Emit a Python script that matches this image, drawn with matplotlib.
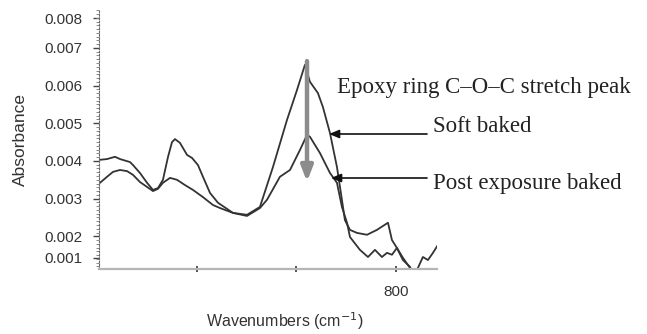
import matplotlib
matplotlib.use("Agg")
import matplotlib.pyplot as plt
from matplotlib.ticker import FixedLocator, MultipleLocator

# Soft baked spectrum (wavenumber cm^-1, absorbance)
soft_wn = [1097.5, 1090.4, 1082.4, 1077.4, 1067.3, 1064.3, 1057.3, 1050.2, 1044.2, 1039.2,
           1034.2, 1029.1, 1025.1, 1022.1, 1017.1, 1010.0, 1005.0, 999.0, 994.0, 986.9,
           978.9, 963.8, 949.7, 936.7, 923.6, 909.5, 899.5, 891.5, 886.4, 878.4,
           873.4, 866.3, 859.3, 854.3, 851.3, 846.2, 839.2, 829.1, 819.1, 808.0,
           804.0, 799.0, 793.0, 785.9, 781.9, 777.9, 772.9, 767.8, 762.8, 757.8]
soft_abs = [0.00403, 0.00405, 0.00411, 0.00405, 0.00397, 0.00389, 0.00368, 0.00342, 0.00323, 0.00328,
            0.00350, 0.00411, 0.00450, 0.00458, 0.00448, 0.00416, 0.00408, 0.00389, 0.00358, 0.00315,
            0.00289, 0.00262, 0.00257, 0.00278, 0.00384, 0.00509, 0.00588, 0.00655, 0.00610, 0.00580,
            0.00543, 0.00474, 0.00384, 0.00297, 0.00243, 0.00217, 0.00209, 0.00204, 0.00217, 0.00236,
            0.00190, 0.00169, 0.00137, 0.00119, 0.00095, 0.00116, 0.00145, 0.00137, 0.00156, 0.00177]

# Post exposure baked spectrum
peb_wn = [1097.5, 1090.4, 1084.4, 1077.4, 1070.3, 1064.3, 1057.3, 1050.2, 1044.2, 1039.2,
          1034.2, 1027.1, 1020.1, 1012.1, 1004.0, 994.0, 983.9, 976.9, 963.8, 949.7,
          936.7, 929.6, 916.6, 906.5, 896.5, 889.4, 886.4, 876.4, 866.3, 859.3,
          854.3, 849.2, 846.2, 836.2, 828.1, 821.1, 814.1, 809.0, 804.0, 799.0,
          793.0, 785.9, 781.9]
peb_abs = [0.00342, 0.00358, 0.00371, 0.00376, 0.00373, 0.00363, 0.00344, 0.00331, 0.00320, 0.00326,
           0.00342, 0.00355, 0.00350, 0.00336, 0.00323, 0.00304, 0.00283, 0.00275, 0.00262, 0.00254,
           0.00275, 0.00297, 0.00358, 0.00376, 0.00429, 0.00469, 0.00464, 0.00421, 0.00368, 0.00342,
           0.00278, 0.00236, 0.00198, 0.00164, 0.00145, 0.00164, 0.00145, 0.00156, 0.00151, 0.00169,
           0.00143, 0.00116, 0.00095]

ytick_pos = [0.00143, 0.002, 0.003, 0.004, 0.005, 0.006, 0.007, 0.00779]
ytick_labels = ["0.001", "0.002", "0.003", "0.004", "0.005", "0.006", "0.007", "0.008"]
xtick_pos = [1000, 900, 800]
xtick_labels = ["", "", "800"]

peak_wn = 889.4
arrow_top = 0.00665
arrow_bottom = 0.00345

fig = plt.figure(figsize=(6.47, 3.34), dpi=100)
ax = fig.add_axes([0.153, 0.195, 0.522, 0.775])

line_color = "#333333"
ax.plot(soft_wn, soft_abs, color=line_color, lw=1.3)
ax.plot(peb_wn, peb_abs, color=line_color, lw=1.3)

ax.set_xlim(1098.5, 759)
ax.set_ylim(0.001135, 0.008006)

for s in ["top", "right"]:
    ax.spines[s].set_visible(False)
ax.spines["bottom"].set_color("#b5b5b5")
ax.spines["bottom"].set_linewidth(1.6)
ax.spines["left"].set_color("#666666")
ax.spines["left"].set_linewidth(0.8)
ax.spines["left"].set_linestyle((0, (1.5, 1.5)))

ax.yaxis.set_major_locator(FixedLocator(ytick_pos))
ax.set_yticklabels(ytick_labels)
ax.yaxis.set_minor_locator(MultipleLocator(0.0001))
ax.tick_params(axis="y", which="major", length=4, width=1, color="#444444",
               labelsize=11, labelcolor="#333333", pad=8)
ax.tick_params(axis="y", which="minor", length=2, width=0.7, color="#888888")

ax.xaxis.set_major_locator(FixedLocator(xtick_pos))
ax.set_xticklabels(xtick_labels)
ax.tick_params(axis="x", which="major", direction="inout", length=5, width=1.2,
               color="#333333", labelsize=11, labelcolor="#333333", pad=9)

for lab in ax.get_yticklabels() + ax.get_xticklabels():
    lab.set_family("Liberation Sans")

ax.set_ylabel("Absorbance", family="Liberation Sans", fontsize=12.5, color="#333333", labelpad=12)
ax.set_xlabel("Wavenumbers (cm$^{-1}$)", family="Liberation Sans", fontsize=11.5,
              color="#333333", labelpad=8)
ax.xaxis.label.set_x(0.55)

# Gray downward arrow at the epoxy peak
ax.annotate("", xy=(peak_wn, arrow_bottom), xytext=(peak_wn, arrow_top),
            arrowprops=dict(arrowstyle="-|>,head_width=0.35,head_length=0.9",
                            color="#8c8c8c", lw=3.2, shrinkA=0, shrinkB=0))

serif = "Liberation Serif"
fs = 16.5
fig.text(337 / 647, 1 - 87 / 334, "Epoxy ring C\u2013O\u2013C stretch peak", family=serif,
         fontsize=fs, color="#222222", va="center", ha="left")

# Label arrows
fig.text(433 / 647, 1 - 127 / 334, "Soft baked", family=serif, fontsize=fs,
         color="#222222", va="center", ha="left")
fig.text(433 / 647, 1 - 183 / 334, "Post exposure baked", family=serif, fontsize=fs,
         color="#222222", va="center", ha="left")

ax.annotate("", xy=(329 / 647, 1 - 134 / 334), xycoords="figure fraction",
            xytext=(427 / 647, 1 - 134 / 334), textcoords="figure fraction",
            arrowprops=dict(arrowstyle="-|>,head_width=0.25,head_length=0.6",
                            color="#111111", lw=1.2, shrinkA=0, shrinkB=0))
ax.annotate("", xy=(331 / 647, 1 - 178 / 334), xycoords="figure fraction",
            xytext=(427 / 647, 1 - 178 / 334), textcoords="figure fraction",
            arrowprops=dict(arrowstyle="-|>,head_width=0.25,head_length=0.6",
                            color="#111111", lw=1.2, shrinkA=0, shrinkB=0))

fig.savefig("out.png", dpi=100, facecolor="white")
